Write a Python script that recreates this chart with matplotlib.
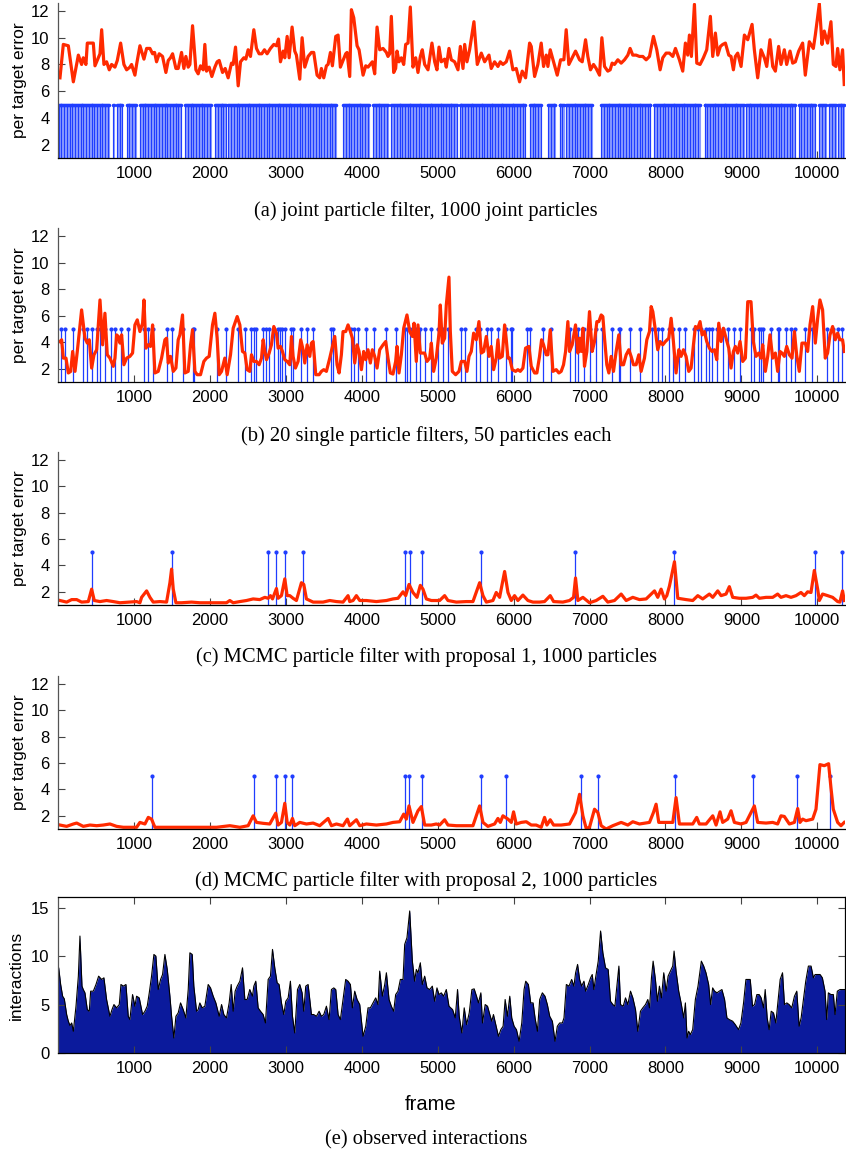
import numpy as np
import matplotlib
matplotlib.use("Agg")
import matplotlib.pyplot as plt

# ---------------- data ----------------
# (a) joint particle filter: per target error
a_frames = [26, 70, 136, 202, 268, 311, 333, 368, 386, 465, 487, 531, 553, 575, 605, 640, 675, 706,
            750, 781, 825, 868, 904, 947, 969, 1013, 1035, 1079, 1132, 1167, 1211, 1246, 1272, 1298,
            1333, 1377, 1421, 1452, 1482, 1509, 1553, 1583, 1627, 1658, 1684, 1715, 1737, 1772, 1816,
            1846, 1877, 1912, 1934, 1956, 1991, 2026, 2066, 2096, 2123, 2167, 2202, 2241, 2285, 2307,
            2338, 2373, 2404, 2447, 2474, 2504, 2535, 2579, 2614, 2649, 2684, 2719, 2754, 2798, 2842,
            2877, 2904, 2930, 2965, 2987, 3018, 3044, 3083, 3118, 3140, 3184, 3215, 3250, 3294, 3338,
            3368, 3412, 3447, 3469, 3500, 3535, 3557, 3588, 3614, 3658, 3689, 3719, 3754, 3789, 3807,
            3842, 3864, 3895, 3939, 3965, 4018, 4053, 4083, 4140, 4171, 4202, 4237, 4281, 4325, 4346,
            4368, 4390, 4421, 4447, 4465, 4491, 4522, 4553, 4579, 4610, 4640, 4675, 4711, 4741, 4772,
            4798, 4829, 4873, 4925, 4961, 4991, 5018, 5048, 5092, 5114, 5149, 5180, 5224, 5268, 5299,
            5334, 5356, 5386, 5421, 5478, 5522, 5575, 5619, 5676, 5706, 5750, 5794, 5825, 5860, 5904,
            5948, 5991, 6035, 6079, 6114, 6158, 6211, 6233, 6277, 6320, 6364, 6395, 6430, 6452, 6483,
            6527, 6575, 6619, 6663, 6693, 6728, 6772, 6816, 6869, 6904, 6948, 6978, 7013, 7053, 7088,
            7132, 7163, 7198, 7241, 7272, 7298, 7329, 7373, 7417, 7461, 7505, 7535, 7570, 7614, 7658,
            7702, 7746, 7790, 7842, 7886, 7930, 7965, 8009, 8053, 8097, 8132, 8184, 8228, 8263, 8294,
            8316, 8342, 8382, 8413, 8456, 8500, 8544, 8592, 8623, 8658, 8689, 8724, 8755, 8790, 8834,
            8864, 8895, 8921, 8952, 8996, 9040, 9084, 9141, 9171, 9215, 9259, 9303, 9334, 9377, 9413,
            9448, 9491, 9522, 9566, 9597, 9641, 9676, 9711, 9755, 9807, 9842, 9895, 9948, 9974, 10027,
            10062, 10092, 10136, 10180, 10211, 10246, 10268, 10298, 10333, 10355]
a_error = [7.0, 9.5, 9.4, 6.7, 8.7, 8.0, 8.5, 8.0, 9.6, 9.6, 7.9, 8.5, 8.8, 10.6, 8.0, 8.2, 7.6, 8.0,
           7.8, 8.3, 9.6, 8.0, 7.6, 7.8, 8.0, 7.2, 8.0, 9.4, 8.4, 9.2, 9.2, 8.8, 8.9, 8.2,
           8.8, 8.6, 7.4, 8.3, 8.5, 8.8, 7.7, 7.7, 8.9, 7.7, 8.6, 7.8, 8.0, 10.9, 7.6,
           7.3, 7.9, 7.6, 9.5, 7.5, 7.8, 7.1, 7.8, 8.2, 8.3, 7.4, 7.7, 7.0, 8.1, 8.0,
           9.3, 6.4, 8.2, 8.5, 8.4, 9.1, 8.6, 10.6, 9.2, 8.8, 8.8, 9.1, 8.8, 9.2, 9.5,
           9.4, 9.9, 8.2, 9.0, 8.5, 10.1, 8.5, 10.8, 9.0, 8.7, 6.9, 10.0, 7.8, 8.6, 8.9,
           8.9, 7.2, 7.0, 7.7, 7.0, 7.9, 8.0, 8.9, 7.9, 10.1, 10.2, 7.8, 8.3, 8.8, 8.9,
           7.1, 12.1, 11.5, 9.4, 9.1, 7.2, 7.9, 7.8, 8.2, 7.3, 10.8, 9.1, 9.2, 8.9, 8.6,
           8.8, 11.6, 7.4, 7.7, 9.0, 8.2, 8.5, 8.0, 9.5, 9.6, 12.3, 7.8, 8.5, 7.4, 8.6,
           9.1, 8.0, 7.6, 9.6, 8.2, 7.6, 9.3, 8.2, 8.4, 7.8, 9.2, 8.35, 8.2, 7.6, 9.35,
           7.7, 9.5, 8.2, 9.1, 11.2, 8.0, 8.85, 8.2, 8.7, 7.7, 8.2, 7.85, 8.2, 8.0, 8.2,
           9.0, 7.6, 7.7, 6.7, 7.5, 7.0, 9.6, 9.35, 7.1, 8.0, 9.6, 7.85, 8.7, 7.85, 9.1,
           8.2, 7.2, 8.35, 8.35, 10.6, 8.0, 8.5, 9.0, 8.35, 8.2, 9.85, 8.6, 7.6, 8.0, 7.7,
           7.2, 10.0, 7.85, 7.5, 7.6, 8.1, 8.0, 8.35, 8.1, 8.35, 8.7, 9.2, 8.7, 8.7, 8.6,
           8.6, 8.35, 8.6, 10.1, 9.1, 7.6, 8.5, 8.85, 8.85, 8.6, 9.2, 8.35, 7.5, 9.6, 8.7,
           10.2, 8.6, 12.5, 8.1, 8.0, 8.5, 9.1, 11.6, 8.6, 10.35, 8.7, 9.35, 9.5, 9.6, 8.7,
           8.6, 7.6, 8.6, 8.85, 7.85, 10.2, 9.85, 11.0, 9.1, 7.0, 9.1, 8.5, 7.85, 9.85, 7.85,
           7.5, 9.35, 8.0, 9.1, 8.0, 9.0, 8.1, 8.2, 9.0, 9.6, 7.2, 9.7, 9.2, 10.2, 12.55,
           9.5, 10.5, 9.6, 11.2, 8.0, 7.85, 9.2, 7.6, 9.1, 6.5]
# (a) tracking failures: runs of frames where the stems are packed
a_fail_runs = [(10, 680), (720, 740), (775, 855), (905, 1030), (1080, 1625), (1675, 2020),
               (2070, 2215), (2245, 3665), (3755, 4100), (4150, 4345), (4390, 5265),
               (5290, 6165), (6215, 6360), (6455, 6560), (6605, 6670), (6695, 7040),
               (7155, 7810), (7855, 8465), (8515, 9040), (9060, 9715), (9755, 9980),
               (10026, 10110), (10160, 10245), (10270, 10360)]

# (b) 20 single particle filters
b_frames = [26, 48, 70, 105, 136, 167, 193, 224, 254, 311, 355, 386, 412, 443, 474, 509, 553, 588,
            618, 649, 684, 728, 750, 772, 794, 816, 838, 868, 904, 947, 982, 1013, 1044, 1079, 1114,
            1132, 1158, 1189, 1219, 1246, 1276, 1320, 1364, 1408, 1430, 1452, 1482, 1518, 1553, 1583,
            1605, 1640, 1671, 1715, 1746, 1772, 1803, 1833, 1877, 1921, 1956, 1991, 2035, 2066, 2096,
            2123, 2154, 2197, 2228, 2272, 2307, 2360, 2395, 2430, 2461, 2491, 2526, 2548, 2579, 2614,
            2649, 2680, 2702, 2724, 2746, 2781, 2811, 2842, 2877, 2899, 2930, 2956, 2987, 3018, 3053,
            3075, 3096, 3127, 3162, 3197, 3228, 3250, 3281, 3316, 3338, 3360, 3395, 3439, 3469, 3500,
            3535, 3579, 3614, 3645, 3675, 3702, 3732, 3754, 3789, 3820, 3851, 3877, 3908, 3939, 3965,
            3996, 4026, 4053, 4083, 4114, 4140, 4171, 4202, 4237, 4281, 4316, 4346, 4377, 4412, 4447,
            4465, 4491, 4522, 4553, 4596, 4632, 4667, 4689, 4719, 4741, 4772, 4798, 4829, 4860, 4895,
            4917, 4947, 4982, 5018, 5035, 5061, 5092, 5114, 5149, 5167, 5193, 5237, 5281, 5312, 5356,
            5386, 5413, 5443, 5474, 5509, 5544, 5575, 5606, 5641, 5676, 5706, 5737, 5772, 5794, 5816,
            5851, 5882, 5904, 5926, 5948, 5983, 6027, 6057, 6088, 6123, 6158, 6202, 6233, 6277, 6307,
            6342, 6369, 6395, 6430, 6452, 6483, 6518, 6562, 6597, 6627, 6658, 6685, 6715, 6737, 6772,
            6816, 6847, 6869, 6891, 6913, 6934, 6965, 7000, 7035, 7066, 7097, 7123, 7154, 7176, 7198,
            7228, 7255, 7285, 7316, 7351, 7386, 7417, 7448, 7483, 7518, 7548, 7579, 7614, 7649, 7680,
            7724, 7755, 7790, 7812, 7834, 7864, 7899, 7930, 7965, 8000, 8044, 8075, 8105, 8140, 8176,
            8206, 8237, 8272, 8307, 8338, 8369, 8395, 8426, 8456, 8483, 8513, 8544, 8579, 8614, 8645,
            8676, 8702, 8733, 8763, 8798, 8834, 8864, 8895, 8921, 8952, 8983, 9018, 9053, 9084, 9127,
            9158, 9193, 9228, 9259, 9281, 9316, 9347, 9377, 9413, 9448, 9478, 9509, 9535, 9566, 9597,
            9632, 9667, 9698, 9728, 9763, 9798, 9842, 9873, 9904, 9939, 9974, 10005, 10035, 10070,
            10105, 10136, 10167, 10202, 10237, 10268, 10298, 10333, 10355]
b_error = [4.05, 4.18, 2.8, 2.8, 1.68, 1.8, 3.3, 1.8, 3.3, 6.43, 4.3, 3.93, 4.18, 2.05, 3.05, 3.43, 7.18, 3.8,
           6.18, 3.05, 2.8, 2.18, 2.8, 4.55, 4.43, 3.93, 4.55, 2.3, 2.8, 2.93, 3.18, 5.3, 5.68, 4.8, 5.43,
           7.18, 3.55, 3.8, 3.68, 5.3, 1.68, 1.8, 2.8, 4.18, 4.3, 2.43, 2.93, 1.8, 2.05, 4.18,
           4.55, 6.05, 1.68, 1.8, 3.8, 4.93, 1.8, 1.55, 1.55, 2.55, 2.8, 2.93, 5.3, 6.18, 4.3,
           1.55, 1.8, 2.8, 1.55, 3.05, 5.05, 5.93, 5.3, 3.3, 3.18, 1.93, 1.8, 3.05, 2.55, 2.55,
           2.3, 2.8, 4.18, 3.3, 2.68, 3.18, 3.8, 5.18, 4.68, 3.55, 3.68, 3.3, 2.68, 2.55, 2.3,
           4.43, 2.93, 2.05, 2.55, 4.18, 3.43, 2.43, 3.8, 2.93, 3.93, 4.05, 1.55, 1.55, 1.8, 1.93,
           1.8, 2.8, 3.68, 4.43, 2.3, 1.68, 3.05, 4.8, 4.8, 5.3, 4.8, 4.3, 2.43, 3.8, 3.3,
           1.93, 3.3, 2.68, 3.43, 2.43, 3.43, 2.93, 2.05, 3.43, 3.8, 4.05, 2.8, 1.68, 1.6, 2.55,
           3.68, 1.68, 3.05, 5.05, 6.05, 4.8, 4.43, 5.43, 2.55, 5.3, 3.18, 3.18, 3.18, 2.55, 2.8,
           3.93, 1.8, 2.8, 4.68, 6.8, 3.93, 4.3, 6.8, 8.9, 4.8, 1.8, 1.55, 1.8, 2.55, 2.55,
           1.8, 2.93, 3.3, 4.68, 4.18, 5.55, 3.18, 3.3, 4.43, 2.93, 3.68, 1.93, 2.8, 4.18, 2.8,
           2.93, 5.3, 4.18, 2.8, 2.8, 1.93, 1.8, 1.93, 1.8, 2.05, 3.55, 3.68, 2.18, 1.68, 1.68,
           2.93, 4.18, 3.8, 3.05, 3.05, 4.93, 1.8, 1.93, 1.68, 1.8, 2.3, 3.3, 5.55, 3.3, 3.8,
           5.3, 3.18, 4.3, 3.3, 5.05, 2.18, 3.3, 6.3, 3.3, 4.05, 5.55, 5.55, 6.05, 5.93, 4.3,
           2.3, 1.68, 2.93, 1.8, 3.3, 4.55, 2.3, 2.3, 3.05, 3.43, 2.93, 2.3, 2.3, 3.05, 1.8,
           2.8, 4.18, 4.8, 6.68, 6.3, 5.05, 3.43, 4.05, 3.8, 4.05, 4.3, 5.8, 4.05, 1.68, 3.43,
           2.93, 3.43, 2.93, 1.8, 2.05, 3.8, 5.18, 5.05, 5.55, 4.55, 4.8, 4.05, 3.55, 3.3, 3.43,
           2.68, 5.43, 4.05, 5.05, 4.3, 3.55, 2.05, 3.3, 3.68, 3.18, 4.05, 2.55, 2.8, 7.05, 7.05,
           4.05, 2.93, 3.18, 2.8, 3.8, 1.8, 2.93, 4.55, 2.8, 3.18, 1.8, 3.3, 3.18, 2.93, 3.68,
           3.05, 2.8, 4.8, 3.05, 1.8, 3.93, 3.93, 3.3, 5.3, 6.68, 3.93, 5.8, 7.18, 6.43,
           2.8, 3.18, 4.55, 5.18, 4.18, 4.68, 4.18, 4.18, 3.3]
b_fail = [35, 92, 193, 325, 386, 443, 509, 553, 618, 693, 750, 825, 925, 1132, 1180, 1254, 1430,
          1496, 1649, 1772, 1794, 2088, 2211, 2373, 2461, 2548, 2579, 2614, 2702, 2746, 2781, 2842,
          2899, 2930, 2956, 2996, 3075, 3096, 3197, 3281, 3360, 3601, 3623, 3864, 3895, 3952, 4061,
          4162, 4325, 4456, 4566, 4596, 4640, 4711, 4772, 4829, 4917, 5004, 5070, 5136, 5312, 5356,
          5509, 5553, 5649, 5706, 5794, 5895, 5961, 5983, 6180, 6211, 6386, 6496, 6737, 6812, 6847,
          6921, 7000, 7088, 7163, 7298, 7386, 7408, 7527, 7667, 7825, 7899, 7956, 8044, 8097, 8176,
          8263, 8382, 8426, 8469, 8535, 8570, 8614, 8676, 8755, 8820, 8908, 8983, 9127, 9171, 9228,
          9259, 9281, 9391, 9478, 9500, 9588, 9654, 9711, 9842, 9930, 10123, 10202, 10268, 10325]

# (c) MCMC particle filter, proposal 1
c_frames = [26, 114, 180, 246, 311, 399, 443, 478, 553, 640, 728, 816, 947, 1035, 1079, 1101, 1167,
            1211, 1254, 1342, 1430, 1474, 1496, 1518, 1553, 1627, 1759, 1868, 2044, 2219, 2263, 2307,
            2395, 2482, 2570, 2658, 2724, 2768, 2798, 2825, 2877, 2899, 2943, 2987, 3018, 3053, 3096,
            3140, 3206, 3237, 3272, 3360, 3491, 3579, 3667, 3754, 3820, 3842, 3886, 3930, 3974, 4061,
            4193, 4325, 4412, 4478, 4544, 4579, 4623, 4675, 4728, 4772, 4807, 4851, 4917, 4982, 5026,
            5092, 5136, 5246, 5377, 5465, 5553, 5597, 5641, 5728, 5772, 5816, 5882, 5926, 5970, 6013,
            6057, 6123, 6189, 6255, 6342, 6408, 6483, 6527, 6649, 6737, 6790, 6816, 6847, 6913, 7000,
            7088, 7176, 7241, 7329, 7417, 7483, 7570, 7658, 7746, 7856, 7899, 7943, 7987, 8018, 8053,
            8119, 8163, 8272, 8360, 8426, 8491, 8579, 8623, 8689, 8733, 8798, 8842, 8886, 8974, 9062,
            9149, 9193, 9237, 9325, 9413, 9478, 9522, 9588, 9654, 9720, 9785, 9829, 9873, 9917, 9961,
            10005, 10027, 10070, 10136, 10202, 10268, 10298, 10333, 10355]
c_error = [1.34, 1.22, 1.41, 1.41, 1.22, 1.26, 2.2, 1.34, 1.26, 1.34, 1.26, 1.17, 1.22, 1.26, 1.17, 1.58, 2.07,
           1.58, 1.22, 1.26, 1.22, 2.69, 3.72, 2.2, 1.17, 1.17, 1.22, 1.17, 1.17, 1.17, 1.34, 1.17,
           1.26, 1.34, 1.46, 1.41, 1.58, 1.51, 1.71, 1.46, 2.25, 1.51, 1.71, 2.98, 1.71, 1.71, 1.51,
           1.34, 2.69, 2.56, 1.46, 1.22, 1.22, 1.34, 1.26, 1.22, 1.71, 1.26, 1.34, 1.71, 1.34, 1.34,
           1.26, 1.34, 1.46, 1.51, 2.0, 1.71, 2.56, 1.95, 1.58, 2.49, 2.2, 1.46, 1.34, 1.34, 1.34,
           1.71, 1.34, 1.22, 1.26, 1.26, 2.69, 1.71, 1.22, 1.34, 1.95, 1.58, 3.54, 1.95, 1.34, 1.71,
           1.34, 1.75, 1.34, 1.22, 1.22, 1.26, 1.71, 1.26, 1.22, 1.34, 1.58, 3.05, 1.34, 1.58, 1.17,
           1.34, 1.66, 1.22, 1.34, 1.83, 1.34, 1.58, 1.41, 1.46, 2.07, 1.58, 2.2, 1.46, 1.71, 2.44,
           4.28, 1.51, 1.41, 1.34, 1.71, 1.46, 1.83, 1.58, 2.07, 1.71, 1.83, 2.39, 1.58, 1.51, 1.51,
           1.58, 1.75, 1.51, 1.58, 1.58, 1.83, 1.58, 1.71, 1.58, 1.71, 1.95, 1.71, 2.0, 1.95, 3.62,
           2.2, 1.34, 1.83, 1.71, 1.58, 1.26, 1.22, 2.07, 1.34]
c_fail = [443, 1496, 2772, 2873, 2991, 3228, 4566, 4632, 4789, 5566, 6812, 8119, 9970, 10320]

# (d) MCMC particle filter, proposal 2
d_frames = [26, 114, 202, 246, 333, 421, 509, 596, 684, 772, 860, 947, 1035, 1079, 1145, 1189, 1232,
            1276, 1430, 1605, 1868, 2088, 2263, 2395, 2504, 2570, 2614, 2702, 2789, 2868, 2899, 2943,
            2987, 3018, 3053, 3088, 3118, 3184, 3272, 3360, 3447, 3557, 3601, 3667, 3754, 3811, 3842,
            3930, 3974, 4061, 4193, 4325, 4412, 4500, 4553, 4588, 4623, 4675, 4741, 4785, 4829, 4917,
            4982, 5026, 5092, 5136, 5246, 5377, 5465, 5553, 5597, 5662, 5750, 5794, 5825, 5860, 5926,
            5970, 6000, 6035, 6101, 6167, 6233, 6298, 6364, 6408, 6439, 6483, 6527, 6627, 6737, 6816,
            6869, 6913, 6956, 7000, 7066, 7110, 7154, 7219, 7307, 7417, 7505, 7570, 7658, 7790, 7842,
            7877, 7912, 8009, 8097, 8140, 8184, 8272, 8360, 8412, 8447, 8535, 8623, 8667, 8719, 8754,
            8820, 8864, 8908, 8996, 9062, 9127, 9171, 9215, 9325, 9413, 9478, 9522, 9566, 9632, 9698,
            9742, 9772, 9807, 9851, 9939, 9983, 10035, 10092, 10149, 10180, 10211, 10268, 10312, 10355]
d_error = [1.3, 1.2, 1.38, 1.45, 1.2, 1.3, 1.25, 1.3, 1.38, 1.2, 1.13, 1.13, 1.13, 1.5, 1.38, 1.88, 1.75,
           1.13, 1.13, 1.13, 1.13, 1.13, 1.25, 1.13, 1.25, 2.0, 1.5, 1.43, 1.38, 2.2, 1.3, 1.5,
           2.95, 1.5, 1.3, 1.8, 1.25, 1.5, 1.38, 1.45, 1.25, 1.8, 1.25, 1.38, 1.25, 1.75, 1.25,
           1.7, 1.25, 1.38, 1.3, 1.38, 1.5, 1.55, 2.13, 1.75, 2.75, 1.5, 2.38, 2.7, 1.3, 1.3,
           1.38, 1.3, 1.7, 1.3, 1.25, 1.25, 1.25, 2.75, 1.5, 1.2, 1.38, 1.8, 1.5, 2.0, 1.75,
           1.5, 2.3, 1.38, 1.5, 1.55, 1.3, 1.3, 1.13, 1.88, 1.3, 1.7, 1.3, 1.3, 1.38, 2.25,
           3.63, 2.0, 1.05, 1.13, 2.5, 2.25, 1.25, 1.0, 1.25, 1.5, 1.3, 1.55, 1.38, 1.5, 2.25,
           2.88, 1.5, 1.5, 1.5, 3.38, 1.38, 1.38, 1.38, 1.88, 1.38, 1.38, 2.0, 1.3, 2.3, 1.5,
           1.75, 2.38, 1.5, 1.38, 1.5, 2.25, 2.75, 1.5, 1.45, 1.5, 1.38, 2.0, 1.95, 1.38, 1.5,
           2.55, 1.5, 1.75, 1.63, 1.75, 2.5, 5.88, 5.8, 5.95, 4.13, 2.5, 1.5, 1.25, 1.5]
d_fail = [1232, 2579, 2868, 2987, 3079, 4566, 4627, 4794, 5566, 5895, 6891, 7110, 8132, 9149,
          9732, 10167]

# (e) observed interactions
e_frames = [0, 9, 35, 61, 83, 114, 136, 158, 180, 202, 237, 268, 289, 316, 333, 355, 386, 412, 430,
            465, 500, 535, 575, 605, 640, 684, 711, 737, 772, 807, 829, 860, 895, 925, 947, 982, 1013,
            1035, 1070, 1114, 1145, 1175, 1202, 1232, 1263, 1289, 1320, 1351, 1377, 1408, 1439, 1474,
            1496, 1526, 1553, 1583, 1614, 1649, 1684, 1715, 1737, 1768, 1789, 1825, 1846, 1868, 1899,
            1934, 1978, 2009, 2044, 2079, 2123, 2154, 2184, 2219, 2254, 2281, 2307, 2333, 2360, 2395,
            2430, 2461, 2491, 2526, 2561, 2579, 2605, 2636, 2667, 2702, 2732, 2768, 2798, 2825, 2855,
            2886, 2912, 2943, 2974, 3000, 3031, 3061, 3088, 3118, 3154, 3184, 3215, 3237, 3263, 3294,
            3338, 3368, 3404, 3439, 3469, 3500, 3535, 3570, 3601, 3632, 3658, 3689, 3719, 3754, 3789,
            3820, 3851, 3877, 3908, 3939, 3974, 4018, 4053, 4083, 4114, 4149, 4184, 4215, 4237, 4272,
            4303, 4325, 4360, 4390, 4421, 4447, 4478, 4509, 4544, 4566, 4596, 4632, 4667, 4697, 4719,
            4741, 4772, 4798, 4829, 4860, 4895, 4930, 4961, 4991, 5018, 5048, 5079, 5114, 5149, 5197,
            5232, 5262, 5284, 5319, 5350, 5381, 5416, 5451, 5481, 5512, 5538, 5569, 5591, 5626, 5657,
            5687, 5713, 5735, 5766, 5801, 5832, 5862, 5889, 5919, 5950, 5976, 6007, 6038, 6073, 6108,
            6138, 6160, 6195, 6226, 6257, 6283, 6314, 6344, 6379, 6414, 6445, 6476, 6511, 6546, 6576,
            6607, 6642, 6664, 6695, 6730, 6765, 6795, 6817, 6843, 6870, 6896, 6927, 6949, 6984, 7014,
            7036, 7058, 7080, 7115, 7146, 7176, 7211, 7246, 7277, 7308, 7334, 7365, 7387, 7409, 7444,
            7474, 7505, 7540, 7571, 7606, 7636, 7671, 7702, 7737, 7768, 7790, 7816, 7838, 7868, 7895,
            7921, 7947, 7978, 8009, 8035, 8066, 8096, 8114, 8140, 8175, 8206, 8241, 8263, 8285, 8306,
            8328, 8359, 8394, 8429, 8473, 8504, 8534, 8569, 8595, 8622, 8648, 8679, 8709, 8744, 8779,
            8810, 8841, 8885, 8920, 8963, 8994, 9029, 9060, 9086, 9117, 9147, 9174, 9204, 9235, 9261,
            9292, 9314, 9340, 9366, 9393, 9423, 9454, 9480, 9511, 9542, 9568, 9599, 9629, 9664, 9699,
            9730, 9761, 9787, 9818, 9848, 9883, 9918, 9949, 9971, 10006, 10037, 10067, 10102, 10124,
            10146, 10181, 10212, 10234, 10264, 10299, 10343, 10365]
e_inter = [8.8, 8.8, 7.07, 5.86, 5.59, 3.97, 3.28, 2.83, 3.1, 2.24, 4.83, 7.93, 12.07, 6.9, 6.55, 6.21,
           4.48, 4.31, 6.38, 6.38, 7.07, 7.93, 7.59, 7.76, 5.52, 3.79, 4.48, 5.0, 4.66, 5.0, 7.07,
           6.9, 7.07, 3.79, 3.45, 6.03, 4.83, 5.86, 5.69, 3.97, 4.31, 4.83, 6.21, 7.93, 10.17, 10.0,
           6.55, 7.59, 8.1, 10.17, 8.62, 5.86, 3.79, 1.55, 3.79, 4.14, 5.17, 4.48, 3.62, 6.55,
           10.34, 10.17, 6.9, 4.31, 4.48, 5.17, 4.66, 4.83, 7.07, 6.72, 5.86, 5.17, 3.79, 5.0,
           3.97, 3.62, 5.17, 7.07, 4.31, 6.38, 6.9, 7.41, 8.79, 5.52, 5.52, 6.55, 5.86, 6.9, 7.41,
           4.66, 4.31, 3.97, 3.1, 7.59, 7.93, 10.69, 8.79, 7.24, 7.07, 5.17, 3.97, 5.34, 5.69,
           7.41, 3.79, 2.07, 6.55, 7.07, 6.21, 4.31, 6.9, 7.07, 3.97, 3.97, 3.79, 4.31, 3.79,
           3.97, 4.83, 3.45, 6.55, 6.72, 6.55, 3.97, 3.45, 5.52, 7.59, 7.41, 7.07, 4.66, 6.38,
           5.52, 5.0, 1.72, 2.76, 4.66, 4.66, 5.17, 5.69, 5.0, 8.45, 5.86, 7.07, 8.28, 5.52,
           4.83, 4.31, 6.03, 6.38, 7.59, 7.59, 11.21, 11.9, 14.66, 9.48, 7.41, 8.62, 8.28, 9.31,
           7.07, 7.93, 6.72, 6.55, 6.9, 5.34, 6.72, 6.03, 6.21, 5.86, 6.55, 4.83, 4.48, 3.62,
           6.55, 3.79, 2.07, 4.66, 2.93, 4.14, 6.55, 6.62, 5.86, 5.17, 6.21, 3.1, 5.0, 4.83,
           3.97, 3.28, 3.97, 2.93, 1.72, 2.41, 2.76, 5.52, 3.79, 5.86, 3.62, 2.76, 2.41, 1.21,
           3.1, 6.55, 7.41, 7.07, 5.17, 5.17, 3.62, 2.24, 5.52, 6.21, 5.86, 5.0, 3.79, 3.28,
           1.21, 2.76, 3.1, 3.1, 3.62, 7.07, 6.9, 7.59, 6.9, 8.28, 9.14, 7.59, 6.9, 7.41, 6.38,
           7.07, 7.76, 8.1, 6.55, 7.76, 9.48, 12.59, 10.34, 8.79, 8.62, 5.34, 5.0, 4.83, 7.24,
           8.97, 5.0, 4.83, 5.69, 5.0, 6.38, 5.69, 4.48, 2.24, 4.31, 4.66, 5.0, 5.52, 4.66,
           7.76, 9.48, 7.59, 5.34, 6.9, 5.69, 8.28, 6.38, 7.93, 8.45, 8.97, 10.52, 8.45, 6.38,
           5.17, 3.62, 5.17, 1.55, 2.24, 1.9, 2.41, 5.52, 6.9, 9.48, 8.97, 8.28, 7.07, 5.0,
           6.72, 6.38, 6.21, 6.38, 6.55, 5.52, 3.62, 3.45, 3.28, 2.93, 2.41, 3.1, 5.17, 7.59,
           7.59, 7.59, 4.83, 5.0, 6.03, 6.03, 5.69, 4.66, 6.55, 3.62, 2.41, 4.31, 4.14, 3.1,
           5.17, 7.59, 8.28, 5.0, 5.17, 5.0, 4.66, 5.86, 6.38, 2.76, 3.62, 5.52, 7.41, 8.97,
           8.97, 7.76, 8.1, 8.1, 8.1, 7.76, 6.38, 3.45, 6.21, 6.03, 6.03, 3.97, 6.38, 6.55,
           6.55, 6.55]

xticks = [1000, 2000, 3000, 4000, 5000, 6000, 7000, 8000, 9000, 10000]
captions = ["(a) joint particle filter, 1000 joint particles",
            "(b) 20 single particle filters, 50 particles each",
            "(c) MCMC particle filter with proposal 1, 1000 particles",
            "(d) MCMC particle filter with proposal 2, 1000 particles",
            "(e) observed interactions"]

# ---------------- styling ----------------
RED = '#ff2a00'
BLUE = '#1f3dff'
LIGHTBLUE = '#8a9cff'
NAVY = '#0b1a9c'
SANS = ['Liberation Sans', 'DejaVu Sans']
SERIF = ['Liberation Serif', 'DejaVu Serif']
plt.rcParams['font.family'] = SANS

W, H = 846, 1154
fig = plt.figure(figsize=(W / 100, H / 100), dpi=100)


def px_axes(top, bottom, left=58, right=845):
    return fig.add_axes([left / W, 1 - bottom / H, (right - left) / W, (bottom - top) / H])


def style_axes(ax, box=False):
    ax.set_xlim(0, 10365)
    ax.set_xticks(xticks)
    ax.set_xticklabels([str(t) for t in xticks])
    ax.tick_params(direction='in', length=5, width=0.8, labelsize=12, color='#444444',
                   pad=6, top=box, right=box)
    for side in ['top', 'right']:
        ax.spines[side].set_visible(box)
    for sp in ax.spines.values():
        sp.set_linewidth(0.9)
    ax.spines['left'].set_color('#555555')


err_panels = [
    (3, 158, a_frames, a_error, None),
    (228, 382, b_frames, b_error, b_fail),
    (452, 605, c_frames, c_error, c_fail),
    (676, 829, d_frames, d_error, d_fail),
]
cap_y = [211, 436, 657, 881]
CAP_X = 426

for i, (top, bot, fr, er, fail) in enumerate(err_panels):
    ax = px_axes(top, bot)
    if fail is None:
        # packed failure stems: a pale layer with darker stems over it
        dense = np.concatenate([np.arange(s, e + 1, 12) for s, e in a_fail_runs])
        ax.vlines(dense, 1, 5, color=LIGHTBLUE, lw=0.8)
        fail = np.concatenate([np.arange(s, e + 1, 36) for s, e in a_fail_runs])
        ax.vlines(fail, 1, 5, color=BLUE, lw=0.8)
        ax.plot(dense, np.full(len(dense), 5.0), '.', color=BLUE, ms=3)
    else:
        ax.vlines(fail, 1, 5, color=BLUE, lw=0.9)
        ax.plot(fail, np.full(len(fail), 5.0), '.', color=BLUE, ms=4)
    ax.plot(fr, er, color=RED, lw=2.3, solid_joinstyle='round')
    ax.set_ylim(1, 12.6)
    ax.set_yticks([2, 4, 6, 8, 10, 12])
    ax.set_ylabel('per target error', fontsize=12.5, labelpad=3)
    style_axes(ax)
    fig.text(CAP_X / W, 1 - cap_y[i] / H, captions[i], ha='center', va='center',
             fontsize=14.8, family=SERIF)

# interactions panel
ax = px_axes(897, 1053)
ax.fill_between(e_frames, 0, e_inter, color=NAVY, lw=0)
ax.plot(e_frames, e_inter, color='black', lw=0.8)
ax.set_ylim(0, 16.1)
ax.set_yticks([0, 5, 10, 15])
ax.set_ylabel('interactions', fontsize=12.5, labelpad=5)
style_axes(ax, box=True)
fig.text(431 / W, 1 - 1105 / H, 'frame', ha='center', va='center', fontsize=14.5)
fig.text(CAP_X / W, 1 - 1140 / H, captions[4], ha='center', va='center',
         fontsize=14.8, family=SERIF)

fig.savefig('out.png', dpi=100)
